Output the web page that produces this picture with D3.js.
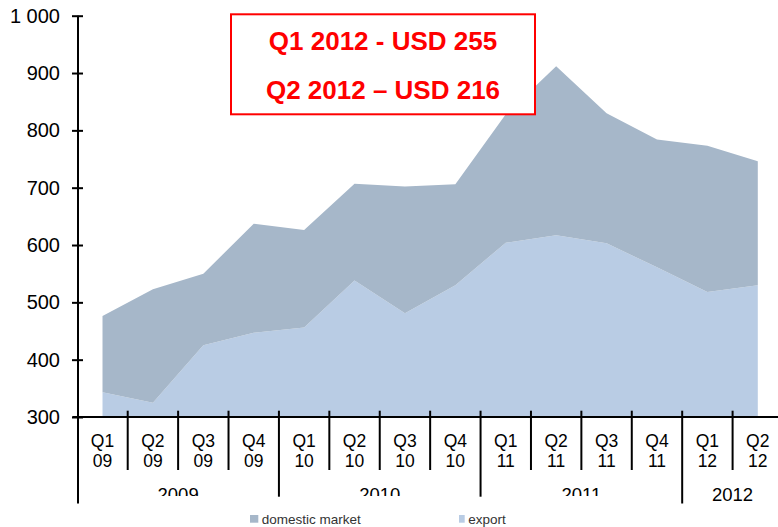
<!DOCTYPE html>
<html>
<head>
<meta charset="utf-8">
<script src="https://cdn.jsdelivr.net/npm/d3@7"></script>
<style>
  body { margin: 0; background: #fff; }
  svg { display: block; font-family: "Liberation Sans", Arial, sans-serif; }
</style>
</head>
<body>
<svg id="chart" width="778" height="527"></svg>
<script>
// quarters and values
const quarters = ["Q1", "Q2", "Q3", "Q4", "Q1", "Q2", "Q3", "Q4", "Q1", "Q2", "Q3", "Q4", "Q1", "Q2"];
const yearShort = ["09", "09", "09", "09", "10", "10", "10", "10", "11", "11", "11", "11", "12", "12"];
const years = ["2009", "2010", "2011", "2012"];
const exportValues = [343, 325, 425, 447, 456, 538, 481, 530, 604, 617, 603, 561, 518, 530];
const domesticValues = [133, 198, 125, 190, 170, 169, 221, 176, 224, 295, 227, 223, 255, 216];
const yTicks = [300, 400, 500, 600, 700, 800, 900, 1000];
const noteLines = ["Q1 2012 - USD 255", "Q2 2012 \u2013 USD 216"];

const colDomestic = "#a6b7c9";
const colExport = "#b9cce4";

const svg = d3.select("#chart");

const cats = quarters.map((q, i) => q + " " + yearShort[i]);
const rows = cats.map((c, i) => ({ cat: c, export: exportValues[i], domestic: domesticValues[i] }));

const x = d3.scaleBand().domain(cats).range([77.3, 783]).padding(0);
const y = d3.scaleLinear().domain([300, 1000]).range([417, 15.7]);

// stacked areas (export at the bottom, domestic on top)
const series = d3.stack().keys(["export", "domestic"])(rows);
const area = d3.area()
    .x(d => x(d.data.cat) + x.bandwidth() / 2)
    .y0(d => y(Math.max(d[0], 300)))
    .y1(d => y(d[1]));

svg.append("g")
    .selectAll("path")
    .data(series)
    .join("path")
    .attr("fill", d => d.key === "export" ? colExport : colDomestic)
    .attr("d", area);

// note box
const note = svg.append("g");
note.append("rect")
    .attr("x", 231).attr("y", 14.3)
    .attr("width", 304).attr("height", 100)
    .attr("fill", "#fff")
    .attr("stroke", "#ff0000")
    .attr("stroke-width", 2);
note.selectAll("text")
    .data(noteLines)
    .join("text")
    .attr("x", 383)
    .attr("y", (d, i) => 50 + i * 48.5)
    .attr("text-anchor", "middle")
    .attr("font-size", 26)
    .attr("font-weight", "bold")
    .attr("fill", "#ff0000")
    .text(d => d);

// y axis
const yAxis = svg.append("g")
    .attr("transform", "translate(78,0)")
    .call(d3.axisLeft(y).tickValues(yTicks).tickSize(6).tickPadding(12)
        .tickFormat(v => d3.format(",")(v).replace(",", " ")));
yAxis.select(".domain").remove();
yAxis.selectAll(".tick line").attr("x1", 5).attr("stroke", "#000").attr("stroke-width", 2);
yAxis.selectAll(".tick text")
    .attr("font-size", 20)
    .attr("font-family", "Liberation Sans, Arial, sans-serif")
    .attr("fill", "#000");

svg.append("line")
    .attr("x1", 78).attr("x2", 78)
    .attr("y1", 15.7).attr("y2", 503.5)
    .attr("stroke", "#000").attr("stroke-width", 2);

// x axis line
svg.append("line")
    .attr("x1", 72.5).attr("x2", 778)
    .attr("y1", 417).attr("y2", 417)
    .attr("stroke", "#000").attr("stroke-width", 2);

// category separators
const bounds = d3.range(1, cats.length + 1);
svg.append("g")
    .selectAll("line")
    .data(bounds)
    .join("line")
    .attr("x1", i => i < cats.length ? x(cats[i]) : x.range()[1])
    .attr("x2", i => i < cats.length ? x(cats[i]) : x.range()[1])
    .attr("y1", 410.7)
    .attr("y2", i => i === 12 ? 503.5 : (i % 4 === 0 ? 496.7 : 470))
    .attr("stroke", "#000")
    .attr("stroke-width", 2);

// quarter labels
const qLab = svg.append("g")
    .selectAll("text")
    .data(cats)
    .join("text")
    .attr("text-anchor", "middle")
    .attr("font-size", 17.5)
    .attr("fill", "#000");
qLab.append("tspan")
    .attr("x", d => x(d) + x.bandwidth() / 2)
    .attr("y", 446.7)
    .text((d, i) => quarters[i]);
qLab.append("tspan")
    .attr("x", d => x(d) + x.bandwidth() / 2)
    .attr("y", 467.3)
    .text((d, i) => yearShort[i]);

// year labels (first three are cut off at the bottom in the original)
svg.append("clipPath").attr("id", "yearClip")
    .append("rect").attr("x", 0).attr("y", 0).attr("width", 680).attr("height", 496);

const yearSpan = years.map(yr => {
    const idx = yearShort.map((s, i) => ("20" + s === yr ? i : -1)).filter(i => i >= 0);
    const x0 = x(cats[idx[0]]);
    const x1 = x(cats[idx[idx.length - 1]]) + x.bandwidth();
    return { yr, cx: (x0 + x1) / 2 };
});
svg.append("g")
    .selectAll("text")
    .data(yearSpan)
    .join("text")
    .attr("x", d => d.cx)
    .attr("y", 500.6)
    .attr("text-anchor", "middle")
    .attr("font-size", 18.5)
    .attr("fill", "#000")
    .attr("clip-path", d => d.yr === "2012" ? null : "url(#yearClip)")
    .text(d => d.yr);

// legend
const legend = [
    { label: "domestic market", color: colDomestic, x: 250, w: 8.3 },
    { label: "export", color: colExport, x: 459, w: 5.7 }
];
const lg = svg.append("g")
    .selectAll("g")
    .data(legend)
    .join("g")
    .attr("transform", d => `translate(${d.x},515)`);
lg.append("rect")
    .attr("width", d => d.w).attr("height", 7.7)
    .attr("fill", d => d.color);
lg.append("text")
    .attr("x", d => d.w + 3.5)
    .attr("y", 9)
    .attr("font-size", 13.5)
    .attr("fill", "#333")
    .text(d => d.label);
</script>
</body>
</html>
